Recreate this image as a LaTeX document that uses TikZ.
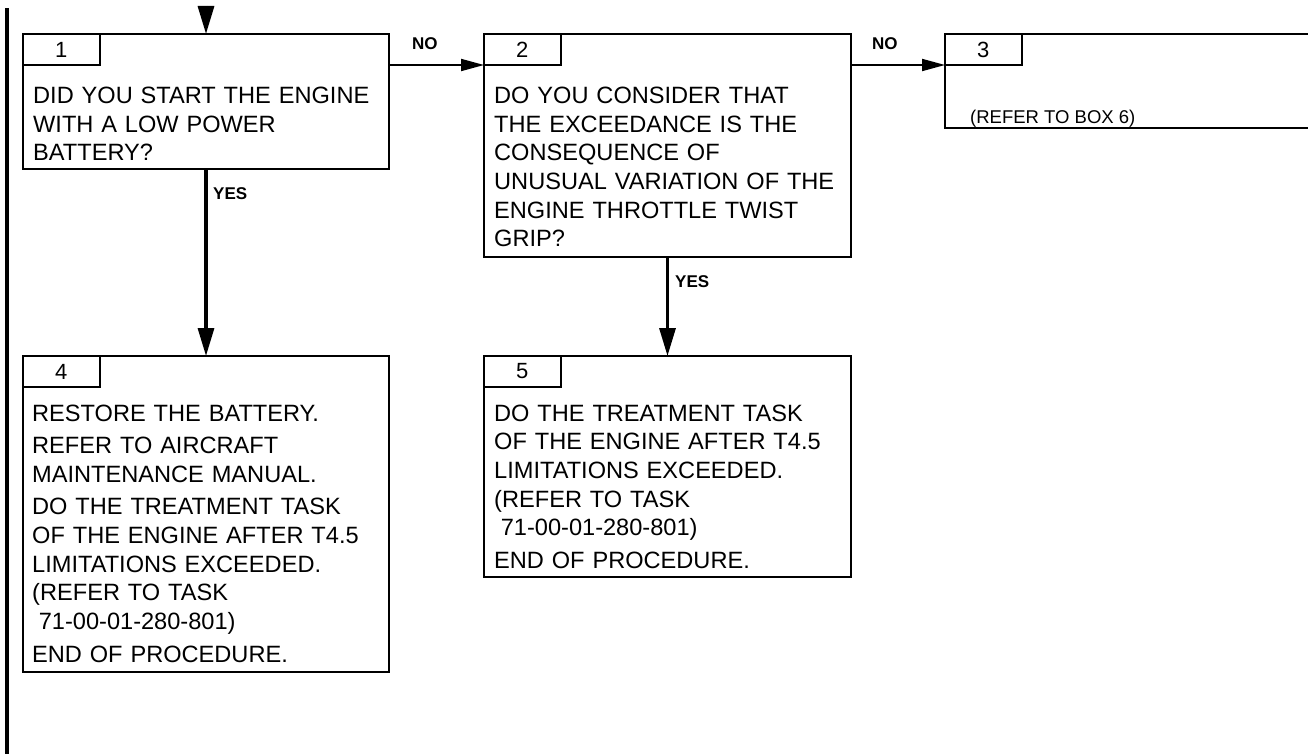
\documentclass[tikz,border=0pt]{standalone}
\usepackage{fontspec}
\setmainfont{Liberation Sans}
\usetikzlibrary{arrows.meta}
\begin{document}
\begin{tikzpicture}[x=1pt,y=-1pt,
  boxline/.style={line width=2.2pt},
  box/.style={draw, boxline, anchor=north west, inner sep=0pt, outer sep=0pt},
  tab/.style={draw, line width=2pt, anchor=north west, inner sep=0pt, outer sep=0pt,
    minimum width=76.5pt, minimum height=31pt, font=\fontsize{22}{26}\selectfont},
  body/.style={anchor=base west, inner sep=0pt, text width=360pt, align=left,
    font=\fontsize{23.6}{28.7}\selectfont},
  small/.style={anchor=base west, inner sep=0pt, font=\fontsize{18.5}{22}\selectfont},
  lbl/.style={anchor=base west, inner sep=0pt, font=\fontsize{17}{20}\selectfont\bfseries},
  yesflow/.style={line width=3.2pt, -{Triangle[length=28pt,width=16pt]}},
  noflow/.style={line width=1.8pt, -{Triangle[length=23pt,width=12pt]}},
]
\useasboundingbox (0,0) rectangle (1308,754);
\clip (0,0) rectangle (1308,754);

% change bar along the left margin
\fill (5,8) rectangle (9,754);

% boxes
\node[box, minimum width=366pt, minimum height=135pt] (b1) at (23,34) {};
\node[box, minimum width=367pt, minimum height=223pt] (b2) at (484,34) {};
\node[anchor=north west, inner sep=0pt, outer sep=0pt, minimum width=420pt, minimum height=94pt] (b3) at (945,34) {};
\draw[boxline] (b3.north east) -- (b3.north west) -- (b3.south west) -- (b3.south east);
\node[box, minimum width=366pt, minimum height=316pt] (b4) at (23,356) {};
\node[box, minimum width=367pt, minimum height=221pt] (b5) at (484,356) {};

% box numbers
\node[tab] (t1) at (b1.north west) {1};
\node[tab] (t2) at (b2.north west) {2};
\node[tab] (t3) at (b3.north west) {3};
\node[tab] (t4) at (b4.north west) {4};
\node[tab] (t5) at (b5.north west) {5};

% box texts
\node[body] (x1) at (33,103.5) {DID YOU START THE ENGINE\\WITH A LOW POWER\\BATTERY?};
\node[body] (x2) at (494,103.5) {DO YOU CONSIDER THAT\\THE EXCEEDANCE IS THE\\CONSEQUENCE OF\\UNUSUAL VARIATION OF THE\\ENGINE THROTTLE TWIST\\GRIP?};
\node[small] (x3) at (970,124) {(REFER TO BOX 6)};
\node[body] (x4) at (32,421) {RESTORE THE BATTERY.\\[3.8pt]REFER TO AIRCRAFT\\MAINTENANCE MANUAL.\\[3.8pt]DO THE TREATMENT TASK\\OF THE ENGINE AFTER T4.5\\LIMITATIONS EXCEEDED.\\(REFER TO TASK\\\hspace*{0.28em}71-00-01-280-801)\\[3.8pt]END OF PROCEDURE.};
\node[body] (x5) at (494,421) {DO THE TREATMENT TASK\\OF THE ENGINE AFTER T4.5\\LIMITATIONS EXCEEDED.\\(REFER TO TASK\\\hspace*{0.28em}71-00-01-280-801)\\[3.8pt]END OF PROCEDURE.};

% connectors
\coordinate (entry) at (206,6);
\draw[yesflow] (entry) -- (b1.north);
\draw[yesflow] (b1.south) -- (b4.north);
\draw[yesflow] (b2.south) -- (b5.north);
\draw[noflow] (b1.east |- t1.south) -- (t2.south west);
\draw[noflow] (b2.east |- t2.south) -- (t3.south west);

% branch labels
\node[lbl] (no1) at (412,50) {NO};
\node[lbl] (no2) at (872,50) {NO};
\node[lbl] (yes1) at (213,200) {YES};
\node[lbl] (yes2) at (675,287) {YES};
\end{tikzpicture}
\end{document}
